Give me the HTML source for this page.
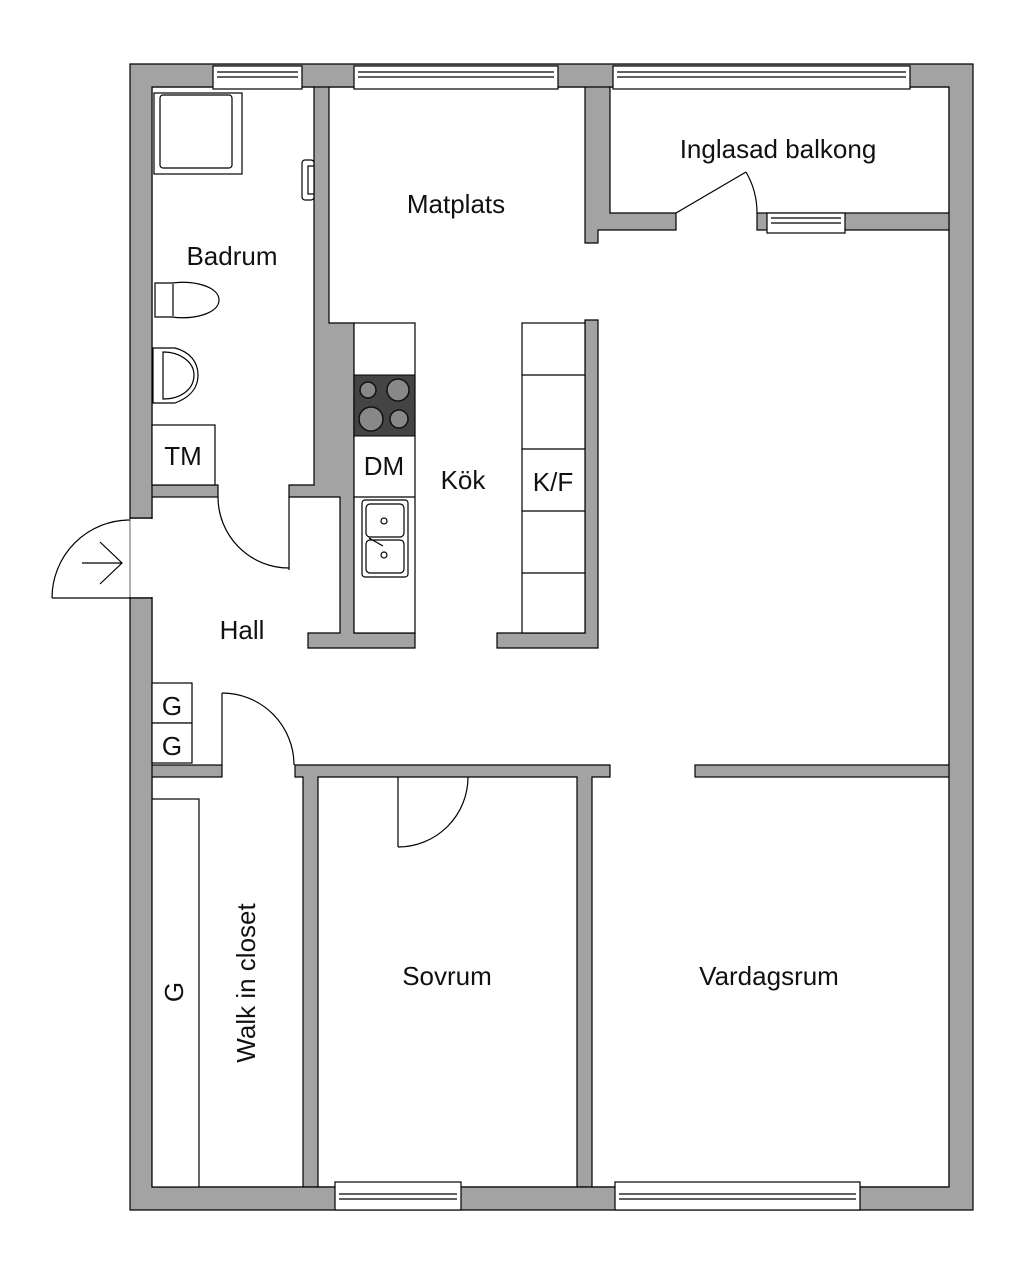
<!DOCTYPE html>
<html><head><meta charset="utf-8"><style>
html,body{margin:0;padding:0;background:#fff;}
svg{display:block;}
text{font-family:"Liberation Sans",sans-serif;fill:#111;}
</style></head><body>
<svg width="1024" height="1274" viewBox="0 0 1024 1274" xmlns="http://www.w3.org/2000/svg">
<rect x="152" y="87" width="797" height="1100" fill="#fff" stroke="#000" stroke-width="1.2"/>
<g fill="#a3a3a3" stroke="#000" stroke-width="1.2">
<path d="M314 80 H329 V323 H354 V633 H415 V648 H308 V633 H340 V497 H289 V485 H314 Z"/>
<rect x="145" y="485" width="73" height="12"/>
<path d="M585 320 H598 V648 H497 V633 H585 Z"/>
<path d="M585 80 H610 V213 H676 V230 H598 V243 H585 Z"/>
<rect x="757" y="213" width="198" height="17"/>
<rect x="145" y="765" width="77" height="12"/>
<path d="M295 765 H610 V777 H592 V1187 H577 V777 H318 V1187 H303 V777 H295 Z"/>
<rect x="695" y="765" width="260" height="12"/>
</g>
<path d="M130 64 H973 V1210 H130 Z M152 87 H949 V1187 H152 Z" fill="#a3a3a3" fill-rule="evenodd" stroke="#000" stroke-width="1.2"/>
<g fill="#fff" stroke="#000" stroke-width="1.2">
<rect x="213" y="66" width="89" height="23"/><line x1="217" y1="72" x2="298" y2="72"/><line x1="217" y1="77" x2="298" y2="77"/>
<rect x="354" y="66" width="204" height="23"/><line x1="358" y1="72" x2="554" y2="72"/><line x1="358" y1="77" x2="554" y2="77"/>
<rect x="613" y="66" width="297" height="23"/><line x1="617" y1="72" x2="906" y2="72"/><line x1="617" y1="77" x2="906" y2="77"/>
<rect x="767" y="213" width="78" height="20"/><line x1="771" y1="218" x2="841" y2="218"/><line x1="771" y1="223" x2="841" y2="223"/>
<rect x="335" y="1182" width="126" height="28"/><line x1="339" y1="1194" x2="457" y2="1194"/><line x1="339" y1="1199" x2="457" y2="1199"/>
<rect x="615" y="1182" width="245" height="28"/><line x1="619" y1="1194" x2="856" y2="1194"/><line x1="619" y1="1199" x2="856" y2="1199"/>
</g>
<rect x="129" y="519" width="24" height="78" fill="#fff"/>
<g fill="none" stroke="#000" stroke-width="1.2">
<line x1="130" y1="518" x2="152" y2="518"/><line x1="130" y1="598" x2="152" y2="598"/>
<line x1="130" y1="519" x2="130" y2="597" stroke-width="0.6"/>
<line x1="52" y1="598" x2="130" y2="598"/>
<path d="M52 598 A78 78 0 0 1 130 520"/>
<line x1="82" y1="563" x2="122" y2="563"/><polyline points="100,542 122,563 100,584"/>
<line x1="289" y1="497" x2="289" y2="570"/><path d="M218 497 A71 71 0 0 0 289 568"/>
<line x1="222" y1="765" x2="222" y2="693"/><path d="M222 693 A72 72 0 0 1 294 765"/>
<line x1="398" y1="777" x2="398" y2="847"/><path d="M398 847 A70 70 0 0 0 468 777"/>
<line x1="676" y1="213" x2="746" y2="172"/><path d="M746 172 A81 81 0 0 1 757 213"/>
</g>
<g fill="#fff" stroke="#000" stroke-width="1.2">
<rect x="154" y="93" width="88" height="81"/>
<rect x="160" y="95" width="72" height="73" rx="3"/>
<rect x="302" y="160" width="12" height="40" rx="3"/><rect x="308" y="166" width="6" height="28"/>
<path d="M155 283 H172 C195 280 219 287 219 300 C219 313 195 320 172 317 H155 Z"/><line x1="173" y1="284" x2="173" y2="316"/>
<path d="M153 348 H175 C190 352 198 362 198 375 C198 390 188 398 175 403 H153 Z"/><path d="M163 352 C180 352 194 362 194 375 C194 390 180 399 163 399 Z"/>
<rect x="152" y="425" width="63" height="60"/>
<rect x="354" y="323" width="61" height="310"/>
<rect x="522" y="323" width="63" height="310"/>
<line x1="522" y1="375" x2="585" y2="375"/><line x1="522" y1="449" x2="585" y2="449"/><line x1="522" y1="511" x2="585" y2="511"/><line x1="522" y1="573" x2="585" y2="573"/>
<line x1="354" y1="497" x2="415" y2="497"/>
<rect x="362" y="500" width="46" height="77" rx="3"/>
<rect x="366" y="504" width="38" height="33" rx="4"/><rect x="366" y="540" width="38" height="33" rx="4"/>
<circle cx="384" cy="521" r="3"/><circle cx="384" cy="555" r="3"/>
<line x1="369" y1="538" x2="383" y2="546"/>
<rect x="152" y="683" width="40" height="40"/><rect x="152" y="723" width="40" height="40"/>
<rect x="152" y="799" width="47" height="388"/>
</g>
<rect x="354" y="375" width="61" height="61" fill="#444" stroke="#000"/>
<g fill="#888" stroke="#111" stroke-width="1.5">
<circle cx="368" cy="390" r="8"/><circle cx="398" cy="390" r="11"/>
<circle cx="371" cy="419" r="12"/><circle cx="399" cy="419" r="9"/>
</g>
<g font-size="26" text-anchor="middle">
<text x="232" y="265">Badrum</text>
<text x="456" y="213">Matplats</text>
<text x="778" y="158">Inglasad balkong</text>
<text x="463" y="489">Kök</text>
<text x="553" y="491">K/F</text>
<text x="384" y="475">DM</text>
<text x="183" y="465">TM</text>
<text x="242" y="639">Hall</text>
<text x="172" y="715">G</text>
<text x="172" y="755">G</text>
<text x="447" y="985">Sovrum</text>
<text x="769" y="985">Vardagsrum</text>
<text transform="translate(255,983) rotate(-90)">Walk in closet</text>
<text transform="translate(183,992) rotate(-90)">G</text>
</g>
</svg>
</body></html>
